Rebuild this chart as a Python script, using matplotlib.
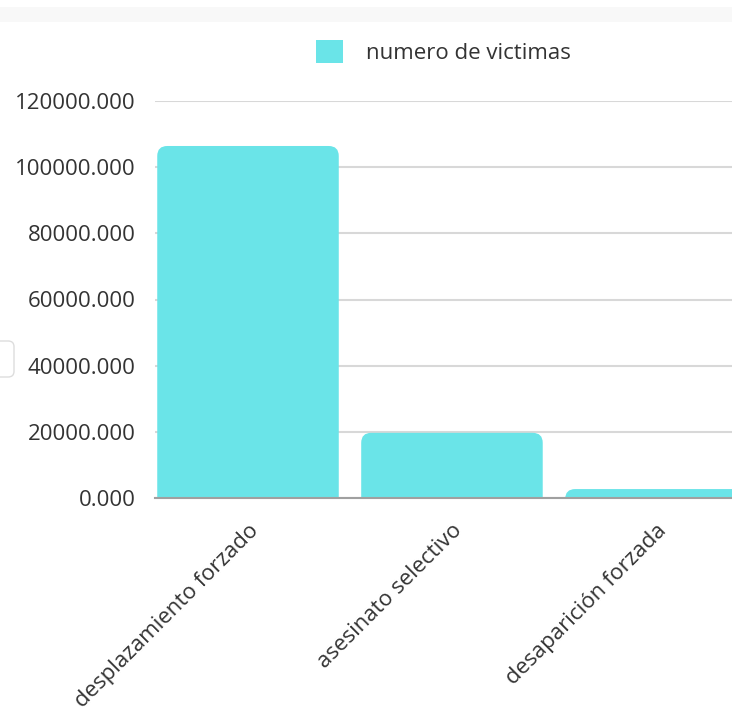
import matplotlib
matplotlib.use("Agg")
import matplotlib.pyplot as plt
from matplotlib.patches import FancyBboxPatch, Rectangle
from matplotlib.ticker import FuncFormatter

categories = ["desplazamiento forzado", "asesinato selectivo", "desaparición forzada"]
values = [106400, 19700, 2700]
series_name = "numero de victimas"
yticks = [0, 20000, 40000, 60000, 80000, 100000, 120000]

BAR_COLOR = "#6ae4e8"
TEXT_COLOR = "#333333"
FS = 16

plt.rcParams['font.family'] = ['Open Sans', 'DejaVu Sans']

W, H = 732, 714
fig = plt.figure(figsize=(W / 100, H / 100), dpi=100)
fig.patch.set_facecolor("white")

# faint top strip
fig.add_artist(Rectangle((0, 1 - 22 / H), 1, 15 / H, transform=fig.transFigure,
                         facecolor="#f8f8f8", edgecolor="none"))
# small UI artifact on left
fig.add_artist(FancyBboxPatch((-20 / W, 1 - 377 / H), 34 / W, 36 / H,
                              boxstyle="round,pad=0,rounding_size=0.008",
                              transform=fig.transFigure, facecolor="white",
                              edgecolor="#dddddd", lw=1))

left, right = 155 / W, 1.0
bottom, top = 1 - 498 / H, 1 - 101 / H
ax = fig.add_axes([left, bottom, right - left, top - bottom])

x = list(range(len(categories)))
ax.set_xlim(-0.456, 2.373)
ax.set_ylim(0, 120000)

width = 0.89
bars = ax.bar(x, values, width=width, color=BAR_COLOR, label=series_name, zorder=2)

# replace with rounded-top bars
fig.canvas.draw()
px_x = ax.transData.transform((1, 0))[0] - ax.transData.transform((0, 0))[0]
px_y = ax.transData.transform((0, 1))[1] - ax.transData.transform((0, 0))[1]
aspect = (1 / px_y) / (1 / px_x)
r_px = 10
r = r_px / px_x
for b in bars:
    b.set_visible(False)
    bx, bw, bh = b.get_x(), b.get_width(), b.get_height()
    ext = 3 * r_px / px_y
    p = FancyBboxPatch((bx, -ext), bw, bh + ext,
                       boxstyle=f"round,pad=0,rounding_size={r}",
                       mutation_aspect=aspect, facecolor=BAR_COLOR,
                       edgecolor="none", zorder=2)
    ax.add_patch(p)

ax.set_yticks(yticks)
ax.yaxis.set_major_formatter(FuncFormatter(lambda v, p: f"{v:.3f}"))
ax.set_xticks(x)
ax.set_xticklabels(categories, rotation=45, ha="right", rotation_mode="anchor")
ax.tick_params(axis="y", length=0, pad=14, labelsize=FS, labelcolor=TEXT_COLOR)
ax.tick_params(axis="x", length=0, pad=16, labelsize=FS, labelcolor=TEXT_COLOR)

ax.grid(axis="y", color="#d8d8d8", lw=1.5, zorder=0)
ax.set_axisbelow(True)
for s in ["left", "right", "top"]:
    ax.spines[s].set_visible(False)
ax.spines["bottom"].set_color("#a0a0a0")
ax.spines["bottom"].set_linewidth(1.5)
ax.spines["bottom"].set_zorder(3)

handle = Rectangle((0, 0), 1, 1, facecolor=BAR_COLOR, edgecolor="none")
fig.legend([handle], [series_name], loc="center",
           bbox_to_anchor=(443 / W, 1 - 52 / H), frameon=False,
           handlelength=1.22, handleheight=1.22, handletextpad=1.03,
           fontsize=FS, labelcolor=TEXT_COLOR)

fig.savefig("out.png", dpi=100)
